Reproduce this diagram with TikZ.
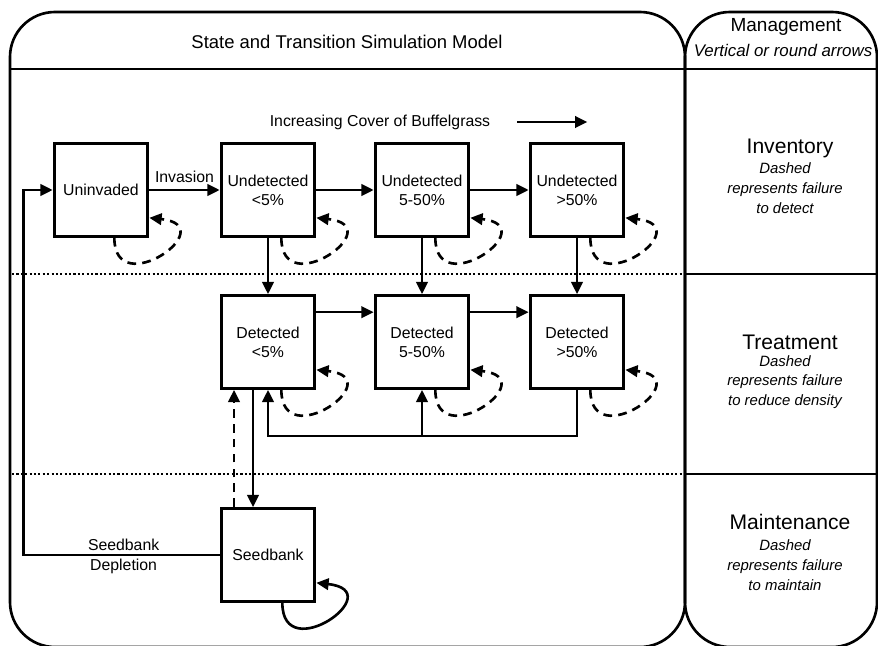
\documentclass[tikz,border=0pt]{standalone}
\usepackage{fontspec}
\setmainfont{Liberation Sans}
\usetikzlibrary{arrows.meta}

\begin{document}
\begin{tikzpicture}[x=0.02cm, y=-0.02cm, line width=1.5pt, >={Triangle[length=7pt,width=6.5pt]},
  state/.style={rectangle,draw,line width=1.8pt,minimum width=1.87cm,minimum height=1.85cm,inner sep=0pt,align=center,font=\fontsize{9}{10.8}\selectfont},
  fail/.style={dash pattern=on 5pt off 3.5pt},
  lbl/.style={font=\fontsize{9}{10.8}\selectfont},
  head/.style={font=\fontsize{12}{14}\selectfont},
  note/.style={align=center,font=\fontsize{8.5}{11.3}\selectfont\itshape},
  zone/.style={line width=1pt,dash pattern=on 1.2pt off 1.3pt}]
\useasboundingbox (0,0) rectangle (878,645);
% frames
\draw[rounded corners=0.9cm] (10,12) rectangle (685,647);
\draw[rounded corners=0.9cm] (685,12) rectangle (877,647);
\draw (10,69) -- (877,69);
\draw (685,274) -- (877,274);
\draw (685,474) -- (877,474);
\draw[zone] (12,274) -- (685,274);
\draw[zone] (12,474) -- (685,474);
% headings
\node[font=\fontsize{10.5}{12}\selectfont] (title) at (347,42) {State and Transition Simulation Model};
\node[font=\fontsize{10.8}{13}\selectfont] (mgmt) at (786,27) {Management};
\node[note,font=\fontsize{9.6}{11}\selectfont\itshape] (mgmtnote) at (783,50) {Vertical or round arrows};
\node[head] (inv) at (790,148) {Inventory};
\node[note] (invnote) at (785,188) {Dashed\\represents failure\\to detect};
\node[head] (treat) at (790,342) {Treatment};
\node[note] (treatnote) at (785,382) {Dashed\\represents failure\\to reduce density};
\node[head] (maint) at (790,522) {Maintenance};
\node[note] (maintnote) at (785,565) {Dashed\\represents failure\\to maintain};
\node[lbl] (cover) at (380,122) {Increasing Cover of Buffelgrass};
\draw[->] ([xshift=0.4cm]cover.east) -- ++(70,0);
% states
\node[state] (un) at (101,190) {Uninvaded};
\node[state] (ud1) at (268,190) {Undetected\\<5\%};
\node[state] (ud2) at (422,190) {Undetected\\5-50\%};
\node[state] (ud3) at (577,190) {Undetected\\>50\%};
\node[state] (d1) at (268,342) {Detected\\<5\%};
\node[state] (d2) at (422,342) {Detected\\5-50\%};
\node[state] (d3) at (577,342) {Detected\\>50\%};
\node[state] (sb) at (268,555) {Seedbank};
% transitions
\draw[->] (un) -- node[above,lbl]{Invasion} (ud1);
\draw[->] (ud1) -- (ud2);
\draw[->] (ud2) -- (ud3);
\draw[->] (ud1) -- (d1);
\draw[->] (ud2) -- (d2);
\draw[->] (ud3) -- (d3);
\draw[->] ([yshift=-0.36cm]d1.north east) -- ([yshift=-0.36cm]d2.north west);
\draw[->] ([yshift=-0.36cm]d2.north east) -- ([yshift=-0.36cm]d3.north west);
\draw[->] (d3.south) -- ++(0,46) -| (d1.south);
\draw[->] ([yshift=-0.92cm]d2.south) -- (d2.south);
\draw[->] ([xshift=-0.3cm]d1.south) -- ([xshift=-0.3cm]sb.north);
\draw[fail,->] ([xshift=-0.68cm]sb.north) -- ([xshift=-0.68cm]d1.south);
\draw[->] (sb.west) -- ++(-196,0) node[pos=.49,above,inner sep=1.5pt,lbl]{Seedbank} node[pos=.49,below,inner sep=1.5pt,lbl]{Depletion} |- (un.west);
% self loops
\foreach \s in {un,ud1,ud2,ud3,d1,d2,d3}
  \draw[fail,->] ([xshift=-0.7cm]\s.south east) .. controls +(0,65) and +(75,8) .. ([yshift=0.4cm]\s.south east);
\draw[->] ([xshift=-0.68cm]sb.south east) .. controls +(0,65) and +(75,8) .. ([yshift=0.4cm]sb.south east);
\end{tikzpicture}
\end{document}
